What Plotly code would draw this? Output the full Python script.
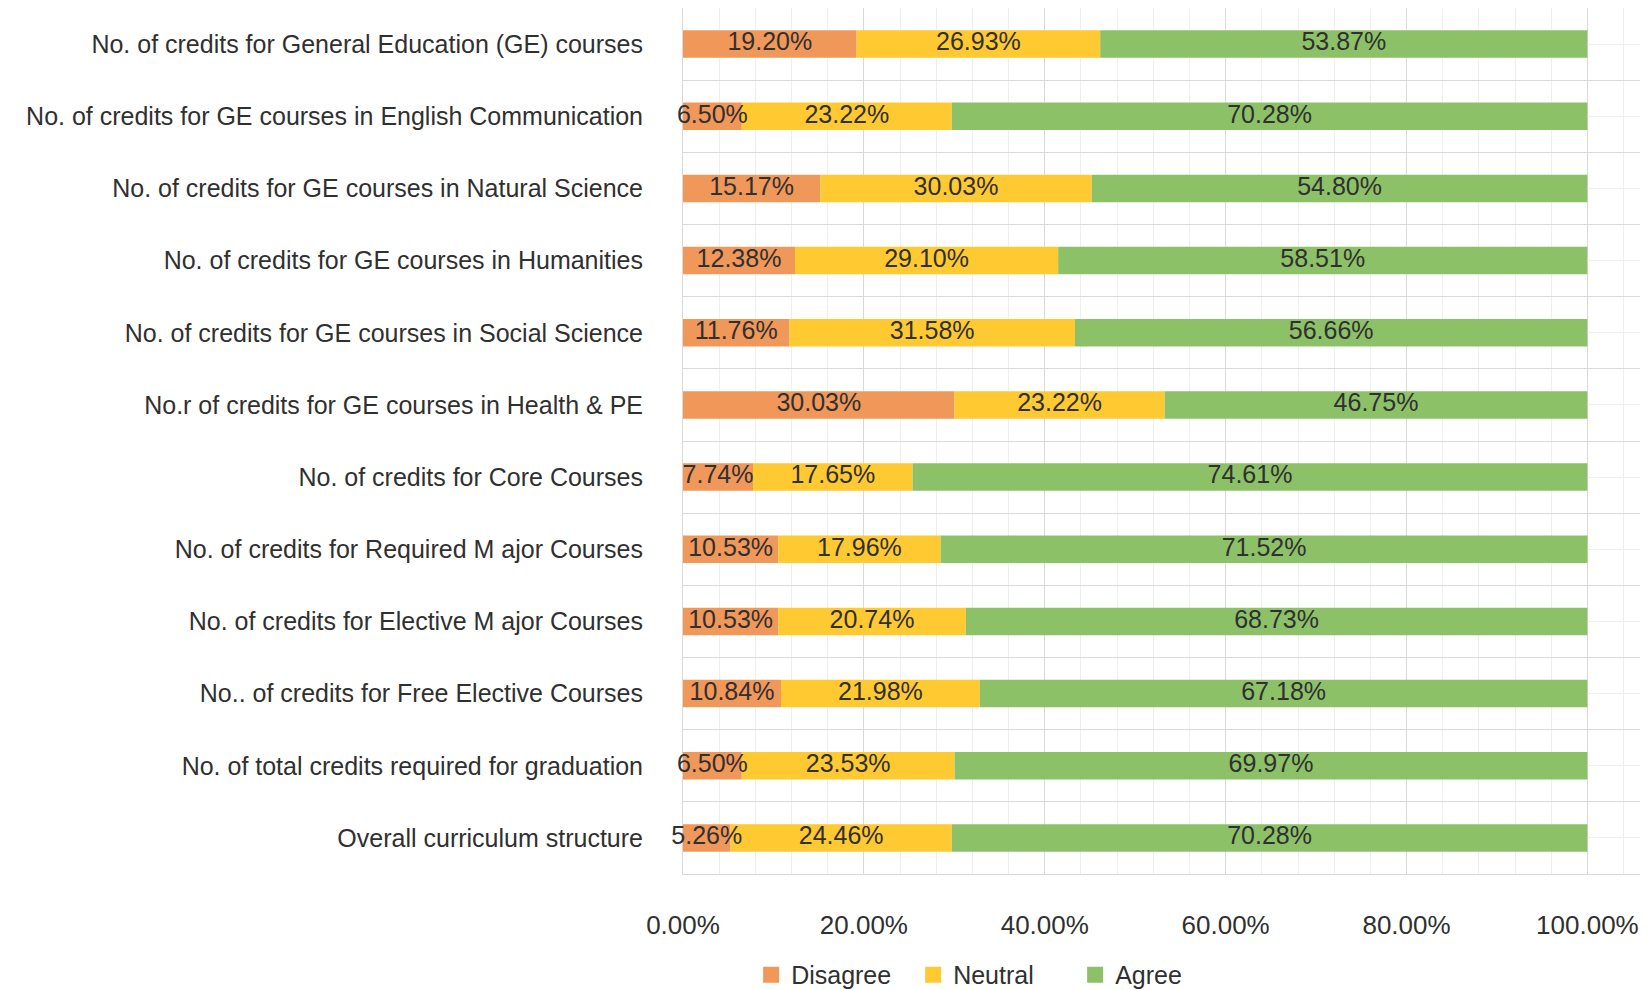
import numpy as np
import plotly.graph_objects as go

categories = [
    "No. of credits for General Education (GE) courses",
    "No. of credits for GE courses in English Communication",
    "No. of credits for GE courses in Natural Science",
    "No. of credits for GE courses in Humanities",
    "No. of credits for GE courses in Social Science",
    "No.r of credits for GE courses in Health & PE",
    "No. of credits for Core Courses",
    "No. of credits for Required M ajor Courses",
    "No. of credits for Elective M ajor Courses",
    "No.. of credits for Free Elective Courses",
    "No. of total credits required for graduation",
    "Overall curriculum structure",
]
disagree = [19.20, 6.50, 15.17, 12.38, 11.76, 30.03, 7.74, 10.53, 10.53, 10.84, 6.50, 5.26]
neutral = [26.93, 23.22, 30.03, 29.10, 31.58, 23.22, 17.65, 17.96, 20.74, 21.98, 23.53, 24.46]
agree = [53.87, 70.28, 54.80, 58.51, 56.66, 46.75, 74.61, 71.52, 68.73, 67.18, 69.97, 70.28]
series_names = ["Disagree", "Neutral", "Agree"]
series_colors = ["#F0975A", "#FFC932", "#8CC168"]
x_ticks = [0, 20, 40, 60, 80, 100]
x_tick_labels = ["0.00%", "20.00%", "40.00%", "60.00%", "80.00%", "100.00%"]

FONT = "Liberation Sans, Arial, sans-serif"
TXT = "#303030"
FS = 25

ypos = np.arange(len(categories))
series = [np.array(disagree), np.array(neutral), np.array(agree)]

fig = go.Figure()
bases = []
base = np.zeros(len(categories))
for name, vals, col in zip(series_names, series, series_colors):
    fig.add_trace(go.Bar(
        y=ypos, x=vals, base=base, orientation="h", name=name,
        marker=dict(color=col, line=dict(width=0)), width=0.38,
        hoverinfo="skip", showlegend=False,
    ))
    bases.append(base.copy())
    base = base + vals

# data labels, centred in each segment
for vals, b in zip(series, bases):
    fig.add_trace(go.Scatter(
        y=ypos, x=b + vals / 2, mode="text",
        text=[f"{v:.2f}%" for v in vals],
        textposition="middle center",
        textfont=dict(family=FONT, size=FS, color=TXT),
        showlegend=False, hoverinfo="skip", cliponaxis=False,
    ))

# legend entries (square swatches)
for name, col in zip(series_names, series_colors):
    fig.add_trace(go.Scatter(
        x=[None], y=[None], mode="markers", name=name,
        marker=dict(symbol="square", size=16, color=col),
        showlegend=True, hoverinfo="skip",
    ))

grid_major = "#D9D9D9"
grid_minor = "#EFEFEF"

fig.update_layout(
    width=1640, height=982,
    margin=dict(l=675, r=0, t=0, b=116, autoexpand=False),
    paper_bgcolor="white", plot_bgcolor="white",
    barmode="overlay",
    font=dict(family=FONT, size=FS, color=TXT),
    showlegend=True,
    legend=dict(orientation="h", x=0.0706, xanchor="left", y=-0.1166, yanchor="middle",
                font=dict(family=FONT, size=FS, color=TXT),
                entrywidth=117, traceorder="normal", itemsizing="trace"),
    xaxis=dict(
        range=[0, 106.7], tickvals=x_ticks, ticktext=x_tick_labels,
        showgrid=True, gridcolor=grid_major, gridwidth=1,
        minor=dict(dtick=4, tick0=0, showgrid=True, gridcolor=grid_minor, gridwidth=1),
        zeroline=False, showline=True, mirror=True, linecolor=grid_major, linewidth=1,
        ticks="outside", ticklen=0, ticklabelstandoff=28,
        tickfont=dict(family=FONT, size=26, color=TXT),
        automargin=False, fixedrange=True, layer="below traces",
    ),
    yaxis=dict(
        range=[11.5, -0.5], tickvals=list(ypos), ticktext=categories,
        showgrid=True, gridcolor=grid_minor, gridwidth=1,
        minor=dict(tickvals=list(np.arange(-0.5, 12, 1.0)), showgrid=True,
                   gridcolor=grid_major, gridwidth=1),
        zeroline=False, showline=True, linecolor=grid_major, linewidth=1,
        ticks="outside", ticklen=0, ticklabelstandoff=34,
        tickfont=dict(family=FONT, size=FS, color=TXT),
        automargin=False, fixedrange=True, layer="below traces",
    ),
)

fig.write_html("out.html")
